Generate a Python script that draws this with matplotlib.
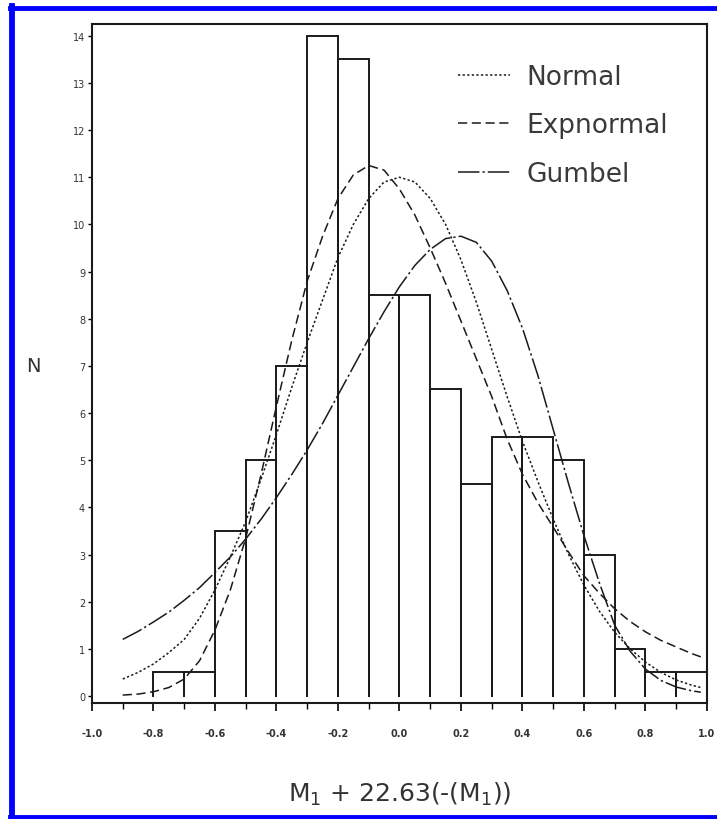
import numpy as np
import matplotlib.pyplot as plt
from matplotlib.lines import Line2D
from matplotlib.ticker import MultipleLocator

# histogram (bin width 0.1)
bin_left = [-0.8, -0.7, -0.6, -0.5, -0.4, -0.3, -0.2, -0.1, 0.0, 0.1,
            0.2, 0.3, 0.4, 0.5, 0.6, 0.7, 0.8, 0.9]
counts = [0.5, 0.5, 3.5, 5, 7, 14, 13.5, 8.5, 8.5, 6.5,
          4.5, 5.5, 5.5, 5, 3, 1, 0.5, 0.5]
bin_width = 0.1

# fitted curves
xc = [-0.90, -0.85, -0.80, -0.75, -0.70, -0.65, -0.60, -0.55, -0.50, -0.45,
      -0.40, -0.35, -0.30, -0.25, -0.20, -0.15, -0.10, -0.05, 0.00, 0.05,
      0.10, 0.15, 0.20, 0.25, 0.30, 0.35, 0.40, 0.45, 0.50, 0.55,
      0.60, 0.65, 0.70, 0.75, 0.80, 0.85, 0.90, 0.95, 0.98]
normal = [0.36, 0.50, 0.68, 0.92, 1.20, 1.65, 2.25, 2.95, 3.70, 4.60,
          5.55, 6.55, 7.50, 8.40, 9.30, 10.00, 10.55, 10.90, 11.00, 10.90,
          10.55, 10.00, 9.25, 8.35, 7.35, 6.35, 5.40, 4.55, 3.75, 3.00,
          2.35, 1.80, 1.35, 1.00, 0.72, 0.50, 0.34, 0.23, 0.18]
expnormal = [0.02, 0.04, 0.09, 0.18, 0.36, 0.75, 1.40, 2.25, 3.35, 4.70,
             6.15, 7.55, 8.80, 9.75, 10.55, 11.05, 11.25, 11.15, 10.75, 10.20,
             9.50, 8.75, 7.95, 7.15, 6.35, 5.45, 4.70, 4.10, 3.58, 3.05,
             2.55, 2.18, 1.85, 1.58, 1.36, 1.18, 1.04, 0.90, 0.83]
gumbel = [1.20, 1.37, 1.57, 1.78, 2.03, 2.30, 2.62, 2.95, 3.33, 3.75,
          4.21, 4.70, 5.22, 5.78, 6.38, 6.98, 7.58, 8.15, 8.68, 9.13,
          9.47, 9.70, 9.75, 9.62, 9.22, 8.60, 7.80, 6.80, 5.65, 4.50,
          3.40, 2.40, 1.50, 0.95, 0.57, 0.33, 0.19, 0.11, 0.08]

xtick_vals = [-1.0, -0.8, -0.6, -0.4, -0.2, 0.0, 0.2, 0.4, 0.6, 0.8, 1.0]
xtick_labels = ["-1.0", "-0.8", "-0.6", "-0.4", "-0.2", "0.0",
                "0.2", "0.4", "0.6", "0.8", "1.0"]

fig = plt.figure(figsize=(7.17, 8.2), dpi=100)
ax = fig.add_axes([0.1283, 0.1415, 0.986 - 0.1283, 0.9695 - 0.1415])

ink = "#1a1a1a"
# open-bottomed bars, like the original print
for left, h in zip(bin_left, counts):
    right = left + bin_width
    ax.plot([left, left, right, right], [0, h, h, 0], color=ink, lw=1.4,
            solid_joinstyle="miter")

ax.plot(xc, normal, color=ink, lw=1.1, linestyle=(0, (1.5, 1.5)), label="Normal")
ax.plot(xc, expnormal, color=ink, lw=1.1, linestyle=(0, (6, 3)), label="Expnormal")
ax.plot(xc, gumbel, color=ink, lw=1.1, linestyle=(0, (14, 2, 1.5, 2)), label="Gumbel")

ax.set_xlim(-1.0, 1.0)
ax.set_ylim(-0.148, 14.25)
ax.set_xticks(xtick_vals)
ax.set_xticklabels(xtick_labels, fontsize=7, fontweight="bold", color="#333")
ax.xaxis.set_minor_locator(MultipleLocator(0.1))
ax.set_yticks(range(0, 15))
ax.set_yticklabels([str(v) for v in range(0, 15)], fontsize=7, color="#333")
ax.tick_params(axis="x", which="major", length=6, width=1.2, direction="out", pad=12)
ax.tick_params(axis="x", which="minor", length=4, width=1.0, direction="out")
ax.tick_params(axis="y", length=3, width=1.0, direction="out", pad=2)
for s in ax.spines.values():
    s.set_linewidth(1.5)
    s.set_color(ink)

fig.text(33 / 717, 1 - 367 / 820, "N", fontsize=14, color="#333",
         ha="center", va="center")
ax.set_xlabel("M$_1$ + 22.63(-(M$_1$))", fontsize=18, color="#333", labelpad=30)

leg = ax.legend(loc="upper left", bbox_to_anchor=(0.556, 0.976), frameon=False,
                fontsize=19, handlelength=2.0, handletextpad=0.6, labelspacing=0.85,
                labelcolor="#3a3a3a")

# blue frame of the scanned image
blue = "#0000ff"
fig.add_artist(Line2D([0.0174, 0.0174], [0.0, 0.992], color=blue, lw=4.2,
                      transform=fig.transFigure))
fig.add_artist(Line2D([0.0145, 1.0], [0.989, 0.989], color=blue, lw=3.5,
                      transform=fig.transFigure))
fig.add_artist(Line2D([0.0145, 1.0], [0.0025, 0.0025], color=blue, lw=3.5,
                      transform=fig.transFigure))

fig.savefig("out.png", dpi=100)
